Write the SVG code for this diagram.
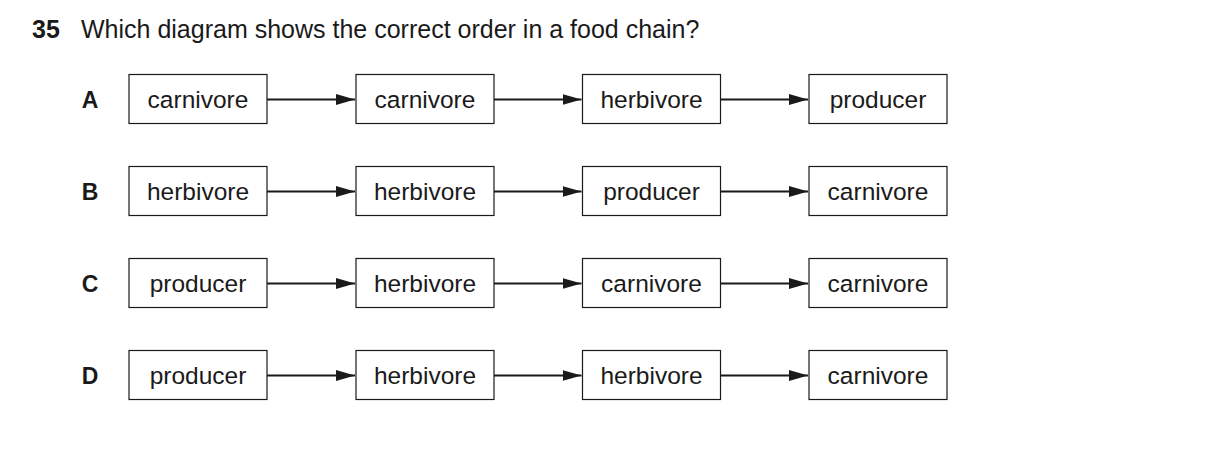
<svg xmlns="http://www.w3.org/2000/svg" width="1209" height="449" viewBox="0 0 1209 449">
<style>
text{font-family:"Liberation Sans",Arial,sans-serif;fill:#1a1a1a}
.t{font-size:25px}
.b{font-weight:bold}
.lbl{font-size:23px;text-anchor:middle;font-weight:bold}
.box rect{fill:#fff;stroke:#1a1a1a;stroke-width:1.2}
.box text{font-size:24.5px;text-anchor:middle}
.c line{stroke:#1a1a1a;stroke-width:2}
</style>
<defs>
<marker id="ah" markerUnits="userSpaceOnUse" markerWidth="20" markerHeight="12" refX="19" refY="6" orient="auto">
<path d="M0,0.5 L19,6 L0,11.5 Z" fill="#1a1a1a"/>
</marker>
</defs>
<rect width="1209" height="449" fill="#fff"/>
<g id="title">
<text class="t b" x="32" y="38">35</text>
<text class="t" x="81" y="38">Which diagram shows the correct order in a food chain?</text>
</g>
<g id="labels">
<text class="lbl" x="90" y="108">A</text>
<text class="lbl" x="90" y="200">B</text>
<text class="lbl" x="90" y="292">C</text>
<text class="lbl" x="90" y="384">D</text>
</g>
<g id="A1" class="box"><rect x="129" y="74.5" width="138" height="49"/><text x="198" y="108">carnivore</text></g>
<g id="A2" class="box"><rect x="356" y="74.5" width="138" height="49"/><text x="425" y="108">carnivore</text></g>
<g id="A3" class="box"><rect x="582.5" y="74.5" width="138" height="49"/><text x="651.5" y="108">herbivore</text></g>
<g id="A4" class="box"><rect x="809" y="74.5" width="138" height="49"/><text x="878" y="108">producer</text></g>
<g id="B1" class="box"><rect x="129" y="166.5" width="138" height="49"/><text x="198" y="200">herbivore</text></g>
<g id="B2" class="box"><rect x="356" y="166.5" width="138" height="49"/><text x="425" y="200">herbivore</text></g>
<g id="B3" class="box"><rect x="582.5" y="166.5" width="138" height="49"/><text x="651.5" y="200">producer</text></g>
<g id="B4" class="box"><rect x="809" y="166.5" width="138" height="49"/><text x="878" y="200">carnivore</text></g>
<g id="C1" class="box"><rect x="129" y="258.5" width="138" height="49"/><text x="198" y="292">producer</text></g>
<g id="C2" class="box"><rect x="356" y="258.5" width="138" height="49"/><text x="425" y="292">herbivore</text></g>
<g id="C3" class="box"><rect x="582.5" y="258.5" width="138" height="49"/><text x="651.5" y="292">carnivore</text></g>
<g id="C4" class="box"><rect x="809" y="258.5" width="138" height="49"/><text x="878" y="292">carnivore</text></g>
<g id="D1" class="box"><rect x="129" y="350.5" width="138" height="49"/><text x="198" y="384">producer</text></g>
<g id="D2" class="box"><rect x="356" y="350.5" width="138" height="49"/><text x="425" y="384">herbivore</text></g>
<g id="D3" class="box"><rect x="582.5" y="350.5" width="138" height="49"/><text x="651.5" y="384">herbivore</text></g>
<g id="D4" class="box"><rect x="809" y="350.5" width="138" height="49"/><text x="878" y="384">carnivore</text></g>
<g id="connectors" class="c">
<line x1="267" y1="99.5" x2="355" y2="99.5" marker-end="url(#ah)"/>
<line x1="494" y1="99.5" x2="581.5" y2="99.5" marker-end="url(#ah)"/>
<line x1="720.5" y1="99.5" x2="808" y2="99.5" marker-end="url(#ah)"/>
<line x1="267" y1="191.5" x2="355" y2="191.5" marker-end="url(#ah)"/>
<line x1="494" y1="191.5" x2="581.5" y2="191.5" marker-end="url(#ah)"/>
<line x1="720.5" y1="191.5" x2="808" y2="191.5" marker-end="url(#ah)"/>
<line x1="267" y1="283.5" x2="355" y2="283.5" marker-end="url(#ah)"/>
<line x1="494" y1="283.5" x2="581.5" y2="283.5" marker-end="url(#ah)"/>
<line x1="720.5" y1="283.5" x2="808" y2="283.5" marker-end="url(#ah)"/>
<line x1="267" y1="375.5" x2="355" y2="375.5" marker-end="url(#ah)"/>
<line x1="494" y1="375.5" x2="581.5" y2="375.5" marker-end="url(#ah)"/>
<line x1="720.5" y1="375.5" x2="808" y2="375.5" marker-end="url(#ah)"/>
</g>
</svg>
